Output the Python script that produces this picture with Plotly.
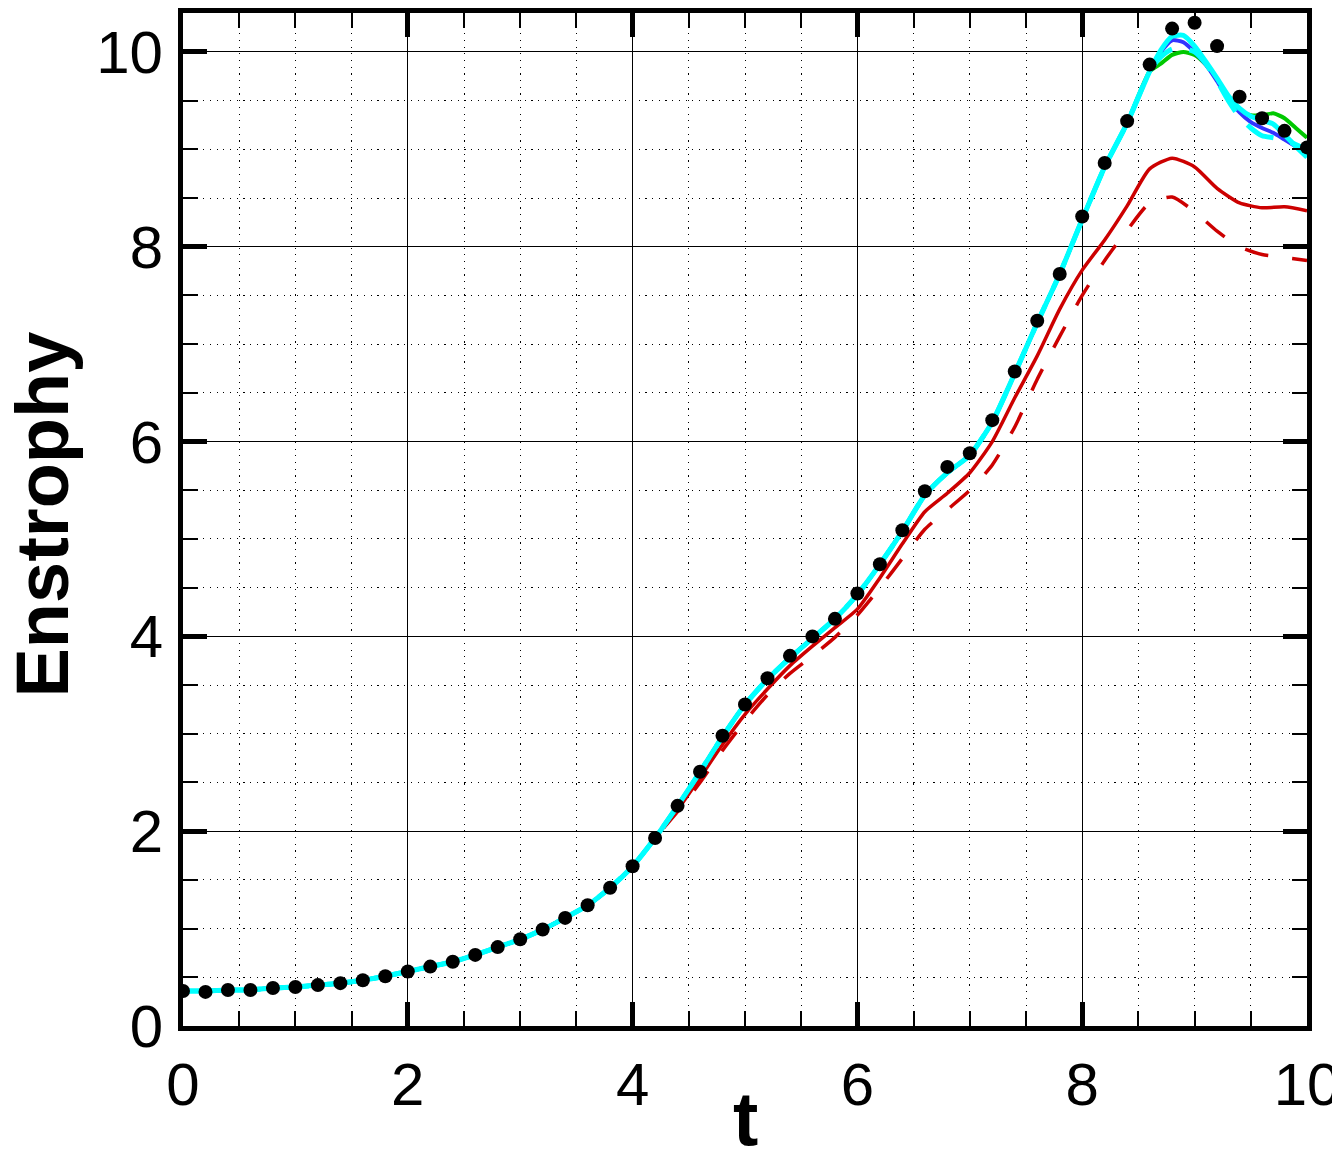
import plotly.graph_objects as go

# ---- data ----
t_dots = [round(0.2 * i, 1) for i in range(51)]
enstrophy_dots = [0.36, 0.35, 0.37, 0.37, 0.39, 0.40, 0.42, 0.44, 0.47, 0.51,
                  0.56, 0.61, 0.66, 0.73, 0.81, 0.89, 0.99, 1.11, 1.24, 1.42,
                  1.64, 1.93, 2.26, 2.61, 2.98, 3.30, 3.57, 3.80, 4.00, 4.18,
                  4.44, 4.74, 5.09, 5.49, 5.74, 5.88, 6.22, 6.72, 7.24, 7.72,
                  8.31, 8.86, 9.29, 9.87, 10.24, 10.30, 10.06, 9.54, 9.32, 9.19,
                  9.02]

t_common = [0.0, 0.2, 0.4, 0.6, 0.8, 1.0, 1.2, 1.4, 1.6, 1.8, 2.0, 2.2, 2.4,
            2.6, 2.8, 3.0, 3.2, 3.4, 3.6, 3.8, 4.0, 4.2]
e_common = [0.36, 0.36, 0.37, 0.37, 0.39, 0.40, 0.42, 0.44, 0.47, 0.51, 0.56,
            0.61, 0.66, 0.73, 0.81, 0.89, 0.99, 1.11, 1.24, 1.42, 1.64, 1.93]

t_mid = [4.4, 4.6, 4.8, 5.0, 5.2, 5.4, 5.6, 5.8, 6.0, 6.2, 6.4, 6.6, 6.8, 7.0,
         7.2, 7.4, 7.6, 7.8, 8.0, 8.2, 8.4, 8.6]
e_mid = [2.26, 2.61, 2.97, 3.30, 3.56, 3.78, 3.98, 4.18, 4.43, 4.74, 5.08,
         5.45, 5.68, 5.86, 6.20, 6.70, 7.22, 7.72, 8.28, 8.82, 9.27, 9.80]

t_late = [8.7, 8.8, 8.9, 9.0, 9.1, 9.2, 9.3, 9.4, 9.5, 9.6, 9.7, 9.8, 9.9, 10.0]
cyan_solid_late = [10.02, 10.16, 10.17, 10.06, 9.90, 9.73, 9.55, 9.42, 9.34,
                   9.30, 9.26, 9.15, 9.03, 8.92]
cyan_dash_late = [9.95, 10.03, 10.04, 10.00, 9.88, 9.70, 9.50, 9.33, 9.22,
                  9.14, 9.12, 9.10, 9.05, 9.00]
blue_late = [10.00, 10.12, 10.10, 10.00, 9.87, 9.70, 9.52, 9.38, 9.28, 9.22,
             9.17, 9.10, 9.03, 8.96]
green_late = [9.88, 9.97, 10.00, 9.97, 9.87, 9.72, 9.53, 9.40, 9.35, 9.35,
              9.37, 9.32, 9.22, 9.12]

t_red = [4.4, 4.6, 4.8, 5.0, 5.2, 5.4, 5.6, 5.8, 6.0, 6.2, 6.4, 6.6, 6.8, 7.0,
         7.2, 7.4, 7.6, 7.8, 8.0, 8.2, 8.4, 8.6, 8.8, 9.0, 9.2, 9.4, 9.6, 9.8,
         10.0]
red_solid = [2.22, 2.55, 2.89, 3.20, 3.46, 3.70, 3.90, 4.09, 4.28, 4.60, 4.95,
             5.28, 5.47, 5.68, 6.00, 6.45, 6.88, 7.36, 7.76, 8.07, 8.42, 8.80,
             8.91, 8.82, 8.60, 8.45, 8.40, 8.41, 8.37]
red_dash = [2.20, 2.50, 2.83, 3.13, 3.40, 3.62, 3.80, 3.99, 4.22, 4.50, 4.80,
            5.10, 5.30, 5.50, 5.76, 6.15, 6.64, 7.08, 7.50, 7.86, 8.17, 8.45,
            8.51, 8.36, 8.16, 8.00, 7.92, 7.89, 7.86]

x_title = "t"
y_title = "Enstrophy"

# ---- build series ----
t_full = t_common + t_mid + t_late
def full(late):
    return e_common + e_mid + late

t_r = t_common + t_red

FONT = "Liberation Sans, Arial, Helvetica, sans-serif"

fig = go.Figure()

def add_line(x, y, color, width, dash="solid"):
    fig.add_trace(go.Scatter(x=x, y=y, mode="lines",
                             line=dict(color=color, width=width, dash=dash,
                                       shape="spline", smoothing=0.6),
                             showlegend=False, hoverinfo="skip"))

add_line(t_r, e_common + red_dash, "#CC0000", 3.5, "24px,24px")
add_line(t_r, e_common + red_solid, "#CC0000", 3.5)
add_line(t_full, full(green_late), "#00C800", 4)
add_line(t_full, full(blue_late), "#3333FF", 4)
add_line(t_full, full(cyan_dash_late), "#00FFFF", 5, "30px,18px")
add_line(t_full, full(cyan_solid_late), "#00FFFF", 5)

fig.add_trace(go.Scatter(x=t_dots, y=enstrophy_dots, mode="markers",
                         marker=dict(color="black", size=14),
                         showlegend=False, hoverinfo="skip"))

axis_common = dict(
    showline=True, linecolor="black", linewidth=5, mirror="allticks",
    ticks="inside", ticklen=24, tickwidth=5, tickcolor="black",
    showgrid=True, gridcolor="black", gridwidth=1.2,
    zeroline=False, automargin=False, ticklabeloverflow="allow",
    tickfont=dict(family=FONT, size=60, color="black"),
    minor=dict(dtick=0.5, ticks="inside", ticklen=15, tickwidth=1.5,
               tickcolor="black", showgrid=True, gridcolor="black",
               gridwidth=1, griddash="1.2px,5.5px"),
)

fig.update_xaxes(range=[0, 10], dtick=2, tick0=0, ticklabelstandoff=2,
                 **axis_common)
fig.update_yaxes(range=[0, 10.40], dtick=2, tick0=0, ticklabelstandoff=3,
                 **axis_common)

fig.add_annotation(text="<b>" + x_title + "</b>", xref="paper", yref="paper",
                   x=0.5, y=-0.134, xanchor="center", yanchor="bottom",
                   showarrow=False, borderpad=0,
                   font=dict(family=FONT, size=76, color="black"))
fig.add_annotation(text="<b>" + y_title + "</b>", xref="paper", yref="paper",
                   x=-0.1254, y=0.505, xanchor="center", yanchor="middle",
                   textangle=-90, showarrow=False, borderpad=0,
                   font=dict(family=FONT, size=74, color="black"))

fig.update_layout(
    width=1332, height=1146,
    margin=dict(l=175, r=33, t=5, b=128),
    plot_bgcolor="white", paper_bgcolor="white",
    showlegend=False,
)

fig.write_html("out.html")
